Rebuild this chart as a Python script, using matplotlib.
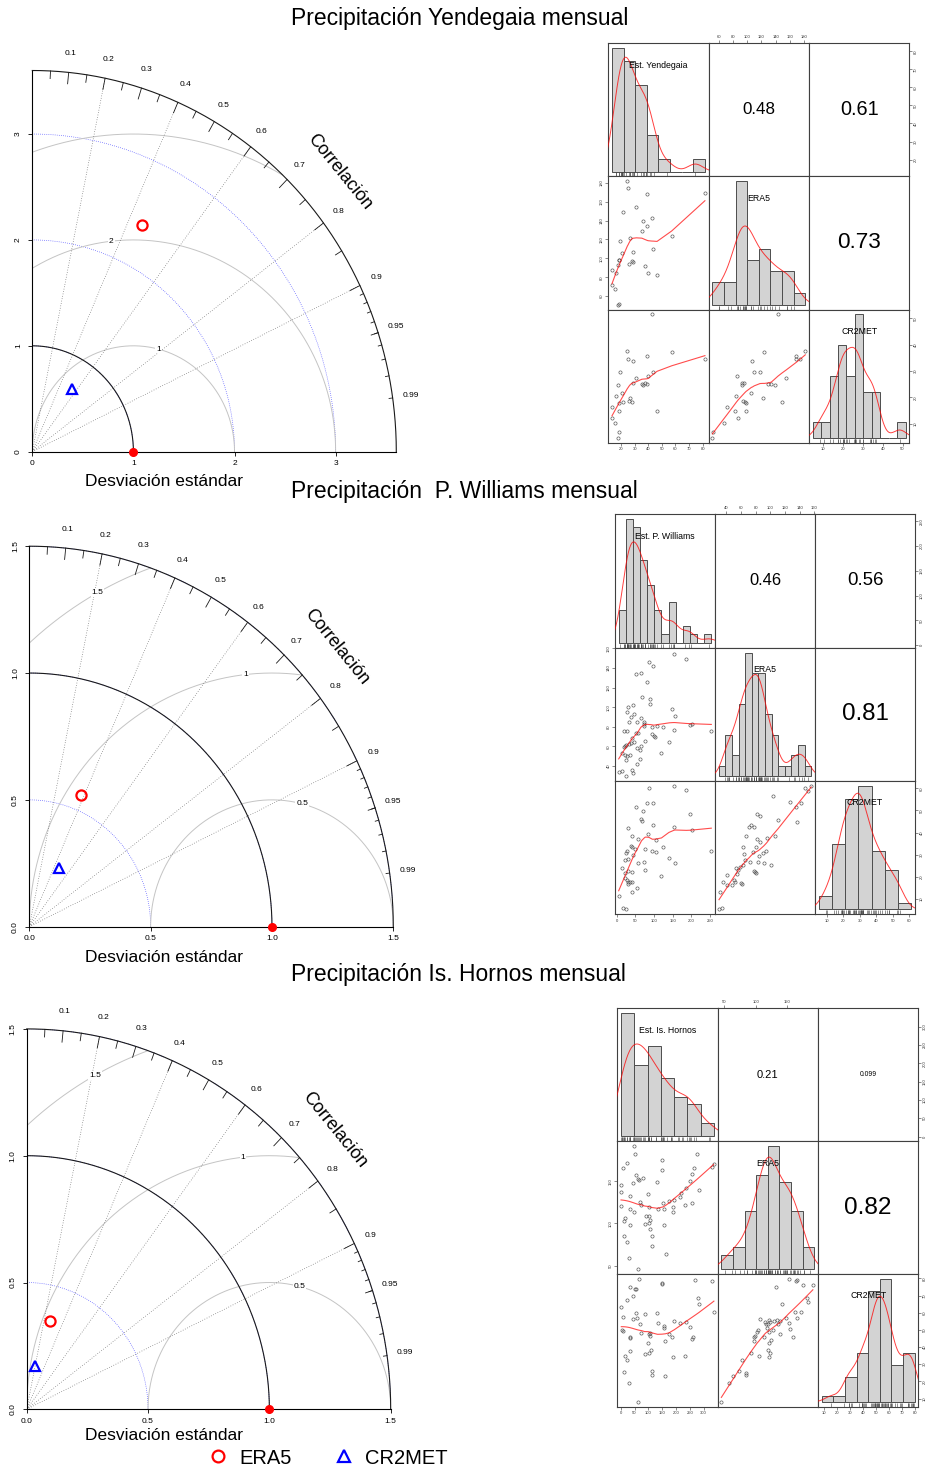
import numpy as np
import matplotlib
matplotlib.use("Agg")
import matplotlib.pyplot as plt
from matplotlib.lines import Line2D
from matplotlib.ticker import FormatStrFormatter

plt.rcParams['font.family'] = ['Liberation Sans', 'DejaVu Sans']

# ---------------- datos ----------------
titulos = ["Precipitación Yendegaia mensual",
           "Precipitación  P. Williams mensual",
           "Precipitación Is. Hornos mensual"]
estaciones = ["Est. Yendegaia", "Est. P. Williams", "Est. Is. Hornos"]
modelos = ["ERA5", "CR2MET"]

# diagramas de Taylor (desv. estandar normalizada y correlacion)
taylor_sd = [[2.40, 0.71], [0.56, 0.26], [0.36, 0.175]]
taylor_cor = [[0.45, 0.55], [0.38, 0.47], [0.27, 0.20]]
taylor_max = [3.6, 1.5, 1.5]
taylor_ejes = [[0, 1, 2, 3], [0, 0.5, 1.0, 1.5], [0, 0.5, 1.0, 1.5]]
taylor_fmt = ["%g", "%.1f", "%.1f"]
taylor_rms = [[1, 2, 3], [0.5, 1, 1.5], [0.5, 1, 1.5]]
cor_lineas = [0.2, 0.4, 0.6, 0.8, 0.9]
cor_etiquetas = [0.1, 0.2, 0.3, 0.4, 0.5, 0.6, 0.7, 0.8, 0.9, 0.95, 0.99]

# Yendegaia: estacion, ERA5, CR2MET (mm/mes)
yen_est = [13.4, 13.4, 16.0, 15.6, 17.6, 18.3, 18.1, 18.5, 18.8, 19.4, 20.7, 21.7, 24.7, 25.3, 25.8, 26.9,
           28.0, 28.6, 28.7, 31.3, 35.3, 36.5, 37.4, 39.0, 39.2, 39.9, 42.7, 43.8, 46.5, 57.3, 81.7]
yen_era = [72.1, 87.5, 84.5, 67.4, 51.1, 52.0, 92.6, 97.8, 98.2, 118.0, 106.0, 148.5, 181.4, 174.7, 94.0, 122.0,
           96.8, 96.0, 107.2, 154.8, 129.0, 139.5, 92.0, 168.5, 133.7, 85.0, 143.1, 109.8, 82.2, 124.0, 169.0]
yen_cr2 = [16.4, 12.2, 20.6, 10.3, 4.6, 6.7, 24.8, 17.8, 14.8, 29.7, 21.5, 18.1, 37.6, 34.5, 18.6, 19.8,
           18.3, 25.6, 33.9, 27.5, 25.1, 24.5, 25.3, 35.8, 25.2, 28.0, 51.5, 29.7, 14.9, 37.1, 34.4]

pw_est_era = [(154, 154.5), (187, 148.8), (87, 146.4), (96, 141.7), (52, 133.9), (65, 135.3), (81, 126.1),
              (67, 110.3), (90, 108.2), (88, 103.2), (30, 100.5), (43, 102.5), (148, 97.8), (27, 94.7),
              (156, 91.0), (47, 93.4), (39, 89.6), (64, 89.0), (32, 84.6), (55, 84.6), (73, 84.9), (74, 83.2),
              (19, 75.8), (153, 76.8), (95, 79.5), (125, 80.2), (107, 81.2), (74, 80.8), (203, 82.5), (196, 81.9),
              (254, 75.8), (27, 76.1), (52, 73.4), (94, 73.1), (99, 70.4), (102, 69.4), (57, 73.8), (42, 68.3),
              (75, 65.3), (64, 60.9), (24, 61.9), (33, 62.6), (39, 63.3), (22, 60.9), (46, 64.3), (18, 59.2),
              (53, 58.5), (62, 56.5), (141, 65.0), (15, 53.1), (22, 50.8), (35, 50.8), (27, 49.8), (24, 46.4),
              (120, 53.1), (53, 42.3), (42, 35.6), (43, 32.5), (5, 33.9), (15, 34.9), (24, 29.8), (63, 46.7)]
pw_est_cr2 = [(154, 61.1), (87, 60.0), (187, 59.1), (81, 53.5), (96, 53.5), (51, 51.4), (71, 49.9), (196, 48.2),
              (66, 46.0), (67, 45.2), (96, 43.3), (30, 42.1), (154, 42.7), (84, 39.3), (203, 41.0), (41, 38.4),
              (56, 36.9), (104, 36.6), (123, 33.5), (37, 33.8), (40, 33.3), (48, 32.6), (27, 31.7), (77, 32.6),
              (25, 30.6), (95, 31.7), (44, 30.0), (105, 31.1), (254, 31.8), (140, 28.4), (30, 28.1), (21, 27.6),
              (57, 26.1), (73, 26.9), (157, 26.4), (15, 23.8), (29, 22.6), (21, 21.9), (76, 23.0), (40, 22.0),
              (120, 20.5), (22, 19.3), (27, 18.6), (30, 17.8), (35, 17.5), (31, 16.6), (42, 17.8), (54, 14.8),
              (42, 13.0), (5, 11.5), (16, 6.1), (24, 5.3)]
pw_era_cr2 = [(146.8, 60.0), (155.8, 61.0), (151.3, 58.9), (103.4, 56.6), (127.4, 53.6), (142.3, 53.5),
              (134.6, 51.4), (82.2, 48.2), (85.8, 47.5), (73.6, 43.4), (78.1, 42.7), (70.9, 42.4), (110.6, 45.8),
              (135.9, 44.6), (66.8, 38.4), (106.1, 38.6), (95.3, 37.7), (82.2, 37.1), (85.8, 35.9), (79.9, 33.5),
              (63.2, 33.3), (76.3, 31.2), (93.9, 31.8), (90.7, 30.8), (85.3, 29.6), (64.5, 30.2), (65.9, 27.8),
              (72.7, 26.5), (83.5, 26.9), (91.2, 26.4), (101.6, 25.2), (62.3, 25.3), (58.7, 24.4), (79.0, 22.3),
              (77.2, 22.8), (80.8, 21.7), (53.2, 24.1), (55.4, 22.9), (54.1, 21.1), (60.0, 17.4), (61.4, 16.9),
              (50.5, 18.6), (51.9, 17.5), (41.0, 16.3), (47.4, 16.3), (35.1, 17.5), (31.5, 13.3), (30.2, 5.5),
              (34.2, 5.8), (41.5, 20.8)]

# Is. Hornos
ho_est_era = [(48, 192.1), (53, 182.3), (24, 172.4), (276, 182.3), (8, 165.4), (151, 175.2), (149, 163.4),
              (265, 165.4), (257, 159.1), (330, 167.0), (336, 170.9), (57, 157.5), (63, 152.8), (67, 152.0),
              (82, 153.5), (45, 147.6), (131, 148.8), (249, 150.4), (2, 145.7), (283, 140.2), (235, 141.7),
              (1, 137.8), (100, 135.4), (218, 135.8), (216, 131.9), (33, 133.1), (2, 120.9), (70, 126.0),
              (75, 122.0), (104, 120.1), (154, 124.0), (175, 127.2), (193, 128.0), (231, 122.4), (259, 124.4),
              (133, 117.3), (157, 117.7), (189, 120.1), (188, 114.2), (34, 117.3), (49, 113.4), (90, 109.4),
              (102, 109.1), (16, 106.3), (12, 102.4), (34, 98.4), (88, 99.2), (102, 100.0), (105, 93.3),
              (158, 98.0), (10, 84.6), (22, 78.3), (113, 84.6), (113, 72.8), (31, 59.1), (163, 63.8),
              (61, 46.1), (106, 104.7)]
ho_est_cr2 = [(65, 79.8), (33, 75.3), (51, 74.0), (54, 74.1), (149, 77.4), (149, 76.5), (270, 79.0), (329, 78.4),
              (45, 69.5), (24, 67.4), (278, 68.5), (283, 65.0), (2, 63.3), (8, 57.5), (57, 59.6), (45, 56.5),
              (60, 56.9), (89, 59.0), (131, 59.6), (70, 53.2), (134, 53.8), (157, 52.1), (158, 51.3), (193, 55.3),
              (216, 54.2), (236, 54.8), (337, 60.6), (4, 49.7), (8, 49.3), (75, 48.4), (101, 47.4), (106, 48.2),
              (105, 46.6), (175, 47.4), (187, 46.0), (251, 51.9), (260, 45.9), (257, 44.5), (33, 45.9), (35, 45.1),
              (100, 42.4), (159, 43.3), (111, 38.5), (34, 37.5), (87, 35.8), (104, 36.7), (17, 34.8), (22, 32.3),
              (190, 34.4), (234, 34.8), (10, 25.5), (112, 26.1), (114, 23.8), (161, 23.4), (31, 19.3), (61, 8.1)]
ho_era_cr2 = [(45.9, 8.1), (58.3, 19.3), (63.5, 23.4), (73.3, 25.9), (84.7, 24.9), (84.2, 23.8), (78.5, 32.3),
              (93.0, 36.6), (104.9, 34.8), (120.5, 34.4), (122.0, 36.7), (120.0, 38.5), (97.2, 43.5), (97.7, 45.9),
              (99.2, 46.4), (112.7, 45.7), (121.5, 42.4), (124.1, 43.9), (138.6, 47.4), (158.8, 46.0),
              (101.8, 48.8), (103.4, 49.9), (117.9, 50.9), (127.2, 49.7), (116.3, 53.2), (119.9, 53.2),
              (123.1, 54.6), (120.5, 55.5), (128.2, 55.2), (133.4, 55.5), (138.1, 55.0), (148.4, 56.9),
              (152.1, 54.0), (154.1, 50.7), (164.5, 57.1), (114.8, 54.6), (134.5, 53.2), (140.7, 65.2),
              (170.7, 60.6), (161.9, 60.4), (181.1, 68.5), (182.6, 66.2), (132.4, 75.3), (151.6, 79.8),
              (163.5, 78.4), (165.5, 79.0), (174.9, 76.3), (189.9, 76.0), (107.5, 56.1), (121.5, 48.6)]

# histogramas: cortes y frecuencias (estacion, ERA5, CR2MET)
yen_cortes = [list(range(10, 91, 10)), list(range(40, 201, 20)), list(range(0, 56, 5))]
yen_frec = [[10, 9, 7, 3, 1, 0, 0, 1], [2, 2, 11, 4, 5, 3, 3, 1], [1, 1, 4, 6, 4, 8, 3, 3, 0, 0, 1]]
pw_cortes = [list(range(0, 261, 20)), list(range(20, 161, 10)), list(range(0, 71, 10))]
pw_frec = [[4, 15, 14, 10, 7, 4, 1, 5, 0, 2, 1, 0, 1], [1, 4, 2, 7, 12, 10, 10, 6, 4, 1, 1, 2, 3, 1],
           [2, 10, 17, 19, 9, 6, 1]]
ho_cortes = [list(range(0, 351, 50)), list(range(40, 201, 20)), list(range(0, 81, 10))]
ho_frec = [[19, 11, 14, 9, 6, 5, 2], [2, 3, 8, 13, 17, 12, 8, 3], [1, 1, 4, 8, 18, 20, 6, 8]]

# correlaciones (est-ERA5, est-CR2MET, ERA5-CR2MET)
yen_cor = [0.48, 0.61, 0.73]
pw_cor = [0.46, 0.56, 0.81]
ho_cor = [0.21, 0.099, 0.82]

yen_ticks = [list(range(20, 81, 10)), list(range(60, 181, 20)), list(range(10, 51, 10))]
pw_ticks = [list(range(0, 251, 50)), list(range(40, 161, 20)), list(range(10, 61, 10))]
ho_ticks = [list(range(0, 301, 50)), [50, 100, 150], list(range(10, 81, 10))]

# ---------------- figura ----------------
W, H = 927, 1469
fig = plt.figure(figsize=(W / 100, H / 100), dpi=100)


def px_axes(x0, y0, x1, y1):
    return fig.add_axes([x0 / W, 1 - y1 / H, (x1 - x0) / W, (y1 - y0) / H])


def lowess(x, y, f=2 / 3, it=3):
    x = np.asarray(x, float)
    y = np.asarray(y, float)
    o = np.argsort(x)
    x, y = x[o], y[o]
    n = len(x)
    k = int(np.ceil(f * n))
    rob = np.ones(n)
    fit = np.zeros(n)
    for _ in range(it + 1):
        for i in range(n):
            d = np.abs(x - x[i])
            h = max(np.sort(d)[k - 1], 1e-9)
            w = np.clip(1 - (d / h) ** 3, 0, None) ** 3 * rob
            sw = w.sum()
            xm = (w * x).sum() / sw
            ym = (w * y).sum() / sw
            var = (w * (x - xm) ** 2).sum()
            b = (w * (x - xm) * (y - ym)).sum() / var if var > 1e-9 else 0.0
            fit[i] = ym + b * (x[i] - xm)
        res = y - fit
        s = np.median(np.abs(res))
        if s == 0:
            break
        rob = np.clip(1 - (res / (6 * s)) ** 2, 0, None) ** 2
    return x, fit


def densidad(v):
    v = np.asarray(v, float)
    n = len(v)
    q75, q25 = np.percentile(v, [75, 25])
    bw = 0.9 * min(v.std(ddof=1), (q75 - q25) / 1.34) * n ** -0.2
    gx = np.linspace(v.min() - 3 * bw, v.max() + 3 * bw, 400)
    gy = np.exp(-0.5 * ((gx[:, None] - v[None, :]) / bw) ** 2).sum(1) / (n * bw * np.sqrt(2 * np.pi))
    return gx, gy


def taylor(caja, k):
    maxsd = taylor_max[k]
    ax = px_axes(*caja)
    ax.set_xlim(0, maxsd)
    ax.set_ylim(0, maxsd)
    ax.patch.set_visible(False)
    for s in ('top', 'right'):
        ax.spines[s].set_visible(False)
    for s in ('left', 'bottom'):
        ax.spines[s].set_linewidth(0.8)
    ax.set_xticks(taylor_ejes[k])
    ax.set_yticks(taylor_ejes[k])
    ax.xaxis.set_major_formatter(FormatStrFormatter(taylor_fmt[k]))
    ax.yaxis.set_major_formatter(FormatStrFormatter(taylor_fmt[k]))
    ax.tick_params(length=2.9, width=0.6, labelsize=6)
    ax.tick_params(axis='x', pad=3.4)
    ax.tick_params(axis='y', pad=4.5, labelrotation=90)
    plt.setp(ax.get_yticklabels(), va='center')

    t = np.linspace(0, np.pi / 2, 300)
    # arcos de desviacion estandar
    for s in taylor_ejes[k][1:]:
        ax.plot(s * np.cos(t), s * np.sin(t), color='blue', lw=0.5, ls=(0, (1, 2)), alpha=0.8)
    # arcos RMS centrados en la referencia
    th = np.linspace(0, np.pi, 800)
    g = taylor_rms[k]
    pos = [int(p) for p in np.linspace(45, 70, len(g))]
    for gi, gam in enumerate(g):
        gx = 1 + gam * np.cos(th)
        gy = gam * np.sin(th)
        m = (gx >= 0) & (gx ** 2 + gy ** 2 <= maxsd ** 2 * 1.0001)
        ax.plot(np.where(m, gx, np.nan), np.where(m, gy, np.nan), color='#c4c4c4', lw=0.7)
        a = (pos[gi] - 1) * 0.03
        lx, ly = 1 + gam * np.cos(a), gam * np.sin(a)
        if lx > 0:
            ax.text(lx, ly, f'{gam:g}', fontsize=6, ha='center', va='center',
                    bbox=dict(facecolor='white', edgecolor='none', pad=0.6))
    # lineas de correlacion
    for r in cor_lineas:
        ax.plot([0, maxsd * r], [0, maxsd * np.sqrt(1 - r * r)], color='0.35', lw=0.5, ls=(0, (1, 2.5)))
    # arco exterior y marcas
    ax.plot(maxsd * np.cos(t), maxsd * np.sin(t), color='0.1', lw=0.8, clip_on=False)
    marcas = [(np.arange(0.1, 0.95, 0.1), 0.97), (np.arange(0.05, 1.0, 0.1), 0.98),
              (np.arange(0.91, 0.995, 0.01), 0.99)]
    for vals, fr in marcas:
        for r in vals:
            a = np.arccos(r)
            ax.plot([fr * maxsd * np.cos(a), maxsd * np.cos(a)], [fr * maxsd * np.sin(a), maxsd * np.sin(a)],
                    color='0.1', lw=0.6, clip_on=False)
    for r in cor_etiquetas:
        a = np.arccos(r)
        ax.text(1.05 * maxsd * np.cos(a), 1.05 * maxsd * np.sin(a), f'{r:g}', fontsize=6,
                ha='center', va='center', clip_on=False)
    a = np.radians(41)
    ax.text(1.12 * maxsd * np.cos(a), 1.12 * maxsd * np.sin(a), 'Correlación', fontsize=13,
            rotation=-51, ha='center', va='center', rotation_mode='anchor')
    # arco de referencia
    ax.plot(np.cos(t), np.sin(t), color='0.1', lw=0.8)
    # puntos
    ax.plot([1], [0], 'o', color='red', ms=5.5, clip_on=False, zorder=5)
    estilos = [dict(marker='o', mec='red'), dict(marker='^', mec='blue')]
    for sd, r, est in zip(taylor_sd[k], taylor_cor[k], estilos):
        ax.plot([sd * r], [sd * np.sqrt(1 - r * r)], ls='none', mfc='none', ms=7.3, mew=1.6, zorder=6, **est)
    return ax


def histograma(hx, valores, cortes, frec):
    cortes = np.array(cortes, float)
    frec = np.array(frec, float)
    ancho = np.diff(cortes)
    dens = frec / (frec.sum() * ancho)
    rng = cortes[-1] - cortes[0]
    hx.set_xlim(cortes[0] - 0.04 * rng, cortes[-1] + 0.04 * rng)
    top = dens.max()
    y0 = -0.04 * top
    hx.set_ylim(y0, 1.04 * top)
    hx.bar(cortes[:-1], dens, width=ancho, align='edge', color='#d3d3d3', edgecolor='0.3', lw=0.7)
    gx, gy = densidad(valores)
    hx.plot(gx, gy, color='red', lw=0.7, alpha=0.75)
    hx.vlines(valores, y0, y0 + 0.03 * 1.08 * top, color='0.25', lw=0.4)


def eje(ax, lado, ticks):
    kw = dict(length=2.2, width=0.4, labelsize=3, pad=1, colors='0.2')
    if lado in ('top', 'bottom'):
        ax.set_xticks(ticks)
        ax.tick_params(axis='x', top=lado == 'top', labeltop=lado == 'top',
                       bottom=lado == 'bottom', labelbottom=lado == 'bottom', **kw)
    else:
        ax.set_yticks(ticks)
        ax.tick_params(axis='y', left=lado == 'left', labelleft=lado == 'left',
                       right=lado == 'right', labelright=lado == 'right', labelrotation=90, **kw)
        plt.setp(ax.get_yticklabels(), va='center')


def pares(caja, nombre, est_era, est_cr2, era_cr2, cortes, frec, cors, ticks):
    izq, arr, der, aba = caja
    cw = (der - izq) / 3
    ch = (aba - arr) / 3
    todos = [[p[0] for p in est_era] + [p[0] for p in est_cr2],
             [p[1] for p in est_era] + [p[0] for p in era_cr2],
             [p[1] for p in est_cr2] + [p[1] for p in era_cr2]]
    marg = [[p[0] for p in est_era], [p[1] for p in est_era], [p[1] for p in est_cr2]]
    lims = []
    for v in todos:
        d = 0.04 * (max(v) - min(v))
        lims.append((min(v) - d, max(v) + d))
    disp = {(1, 0): est_era, (2, 0): est_cr2, (2, 1): era_cr2}
    ctxt = {(0, 1): cors[0], (0, 2): cors[1], (1, 2): cors[2]}
    etiquetas = [nombre, modelos[0], modelos[1]]
    ejes = {(0, 1): [('top', 1)], (0, 2): [('right', 0)], (1, 0): [('left', 1)],
            (2, 0): [('bottom', 0)], (2, 2): [('bottom', 2), ('right', 2)]}
    for i in range(3):
        for j in range(3):
            box = (izq + j * cw, arr + i * ch, izq + (j + 1) * cw, arr + (i + 1) * ch)
            ax = px_axes(*box)
            ax.set_xlim(lims[j])
            ax.set_ylim(lims[i])
            ax.set_xticks([])
            ax.set_yticks([])
            for s in ax.spines.values():
                s.set_linewidth(0.8)
                s.set_color('0.25')
            for lado, var in ejes.get((i, j), []):
                eje(ax, lado, ticks[var])
            if (i, j) in disp:
                xs = [p[0] for p in disp[(i, j)]]
                ys = [p[1] for p in disp[(i, j)]]
                ax.plot(xs, ys, 'o', mfc='none', mec='0.3', ms=2.3, mew=0.45)
                lx, ly = lowess(xs, ys)
                ax.plot(lx, ly, color='red', lw=0.8, alpha=0.7)
            elif (i, j) in ctxt:
                r = ctxt[(i, j)]
                txt = f'{r:.2g}'
                em = sum(0.278 if c == '.' else 0.556 for c in txt)
                size = 0.423 * cw * (abs(r) + 0.3) / em * 0.72
                ax.text(0.5, 0.5, txt, transform=ax.transAxes, ha='center', va='center', fontsize=size)
            else:
                hx = px_axes(*box)
                hx.axis('off')
                hx.patch.set_visible(False)
                histograma(hx, marg[i], cortes[i], frec[i])
                hx.text(0.5, 0.835, etiquetas[i], transform=hx.transAxes, ha='center', va='center',
                        fontsize=6.3)


taylor_cajas = [(32.3, 70.5, 396.3, 451.7), (29.3, 546.2, 393.3, 926.7), (26.7, 1028.9, 390.7, 1409.3)]
pares_cajas = [(608.3, 43.3, 909.3, 442.7), (615, 514.3, 915, 914.3), (617.3, 1008.3, 918.3, 1406.7)]
titulo_y = [19, 491, 974]
xlabel_y = [482, 958, 1435]

pw = (pw_est_era, pw_est_cr2, pw_era_cr2)
ho = (ho_est_era, ho_est_cr2, ho_era_cr2)
yen = (list(zip(yen_est, yen_era)), list(zip(yen_est, yen_cr2)), list(zip(yen_era, yen_cr2)))
datos = [(yen, yen_cortes, yen_frec, yen_cor, yen_ticks),
         (pw, pw_cortes, pw_frec, pw_cor, pw_ticks),
         (ho, ho_cortes, ho_frec, ho_cor, ho_ticks)]

for k in range(3):
    taylor(taylor_cajas[k], k)
    fig.text(291 / W, 1 - titulo_y[k] / H, titulos[k], fontsize=16.5, ha='left', va='center')
    fig.text(164 / W, 1 - xlabel_y[k] / H, 'Desviación estándar', fontsize=12.5, ha='center', va='center')
    (a, b, c), cortes, frec, cors, ticks = datos[k]
    pares(pares_cajas[k], estaciones[k], a, b, c, cortes, frec, cors, ticks)

handles = [Line2D([], [], ls='none', marker='o', mfc='none', mec='red', ms=8.5, mew=1.6),
           Line2D([], [], ls='none', marker='^', mfc='none', mec='blue', ms=8.5, mew=1.6)]
fig.legend(handles, modelos, loc='center', bbox_to_anchor=(328 / W, 1 - 1458 / H), ncol=2, frameon=False,
           fontsize=14.5, handlelength=1.0, handletextpad=0.55, columnspacing=2.1, borderpad=0)

fig.savefig('out.png', dpi=100)
